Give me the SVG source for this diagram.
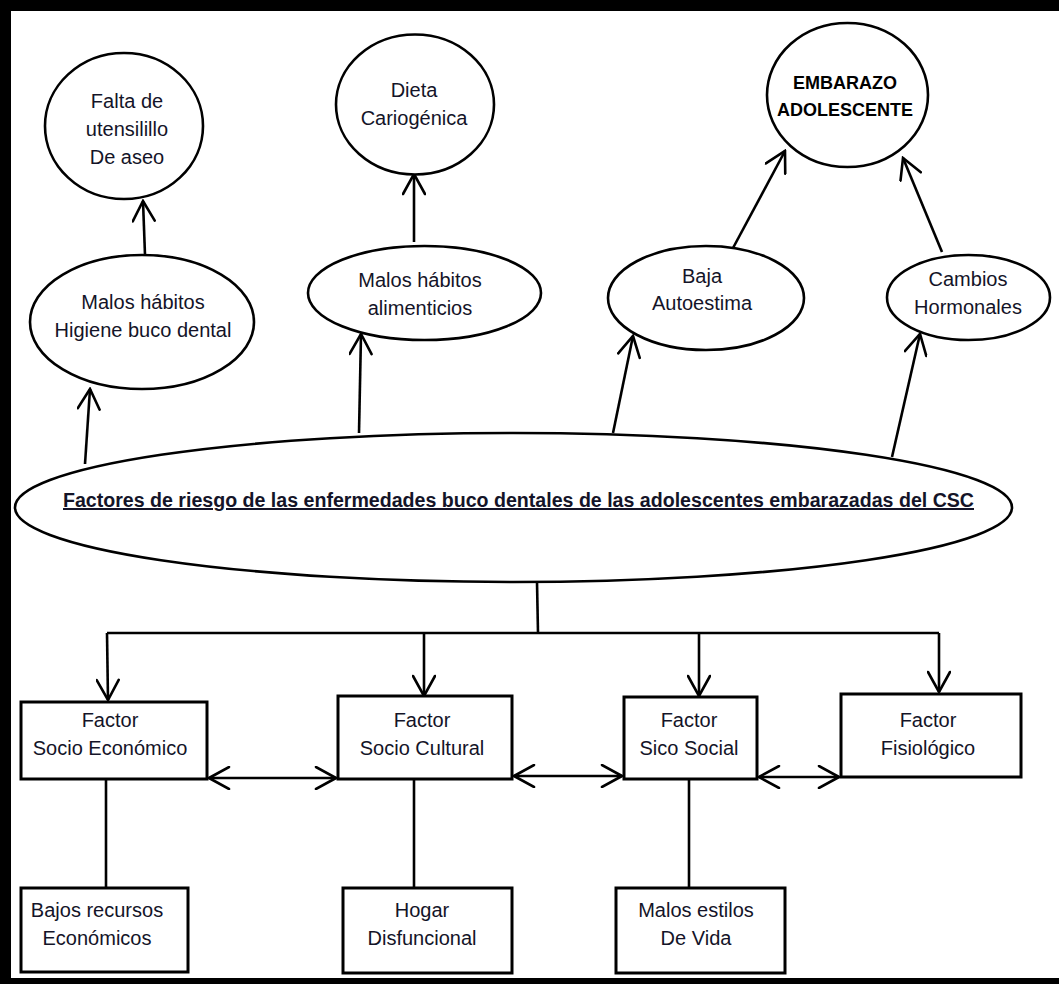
<svg xmlns="http://www.w3.org/2000/svg" width="1059" height="984" viewBox="0 0 1059 984">
<style>
.node ellipse, .node rect { fill: #fff; stroke: #000; stroke-width: 2.6; }
.node rect { stroke-width: 3; }
.t { font-family: "Liberation Sans", Arial, sans-serif; font-size: 20px; fill: #141428; text-anchor: middle; }
.b { font-weight: bold; font-size: 18px; fill: #000; }
.c line, .c path { stroke: #000; stroke-width: 2.6; fill: none; }
.a { marker-end: url(#ah); }
.d { marker-end: url(#ah); marker-start: url(#ah); }
</style>
<defs>
<marker id="ah" viewBox="-22 -12 24 24" refX="0" refY="0" markerWidth="24" markerHeight="24" markerUnits="userSpaceOnUse" orient="auto-start-reverse">
<path d="M-20,-11 L0,0 L-20,11" fill="none" stroke="#000" stroke-width="2.6" stroke-linecap="round" stroke-linejoin="miter"/>
</marker>
</defs>
<rect x="0" y="0" width="1059" height="984" fill="#000"/>
<rect x="11" y="11" width="1048" height="967" fill="#fff"/>

<g class="c" id="connectors">
<line class="a" x1="85" y1="464" x2="90" y2="389"/>
<line class="a" x1="359" y1="433" x2="361" y2="334"/>
<line class="a" x1="613" y1="433" x2="633" y2="336"/>
<line class="a" x1="892" y1="457" x2="920" y2="334"/>
<line class="a" x1="145" y1="255" x2="143" y2="201"/>
<line class="a" x1="414" y1="242" x2="414" y2="174"/>
<line class="a" x1="733" y1="248" x2="785" y2="151"/>
<line class="a" x1="942" y1="252" x2="903" y2="158"/>
<line x1="537" y1="582" x2="538" y2="633"/>
<line x1="107" y1="633" x2="939" y2="633"/>
<line class="a" x1="107" y1="633" x2="108" y2="700"/>
<line class="a" x1="424" y1="633" x2="424" y2="696"/>
<line class="a" x1="699" y1="633" x2="699" y2="696"/>
<line class="a" x1="939" y1="633" x2="939" y2="692"/>
<line class="d" x1="209" y1="778" x2="336" y2="778"/>
<line class="d" x1="514" y1="776" x2="622" y2="776"/>
<line class="d" x1="759" y1="777" x2="839" y2="777"/>
<line x1="106" y1="779" x2="106" y2="887"/>
<line x1="414" y1="779" x2="414" y2="888"/>
<line x1="689" y1="779" x2="689" y2="888"/>
</g>

<g class="node" id="n-main">
<ellipse cx="513.5" cy="507.5" rx="498.5" ry="74.5"/>
<text class="t" x="518.5" y="507" font-weight="bold" font-size="17" fill="#000" text-decoration="underline" textLength="911" lengthAdjust="spacingAndGlyphs">Factores de riesgo de las enfermedades buco dentales de las adolescentes embarazadas del CSC</text>
</g>

<g class="node" id="n-falta">
<ellipse cx="124" cy="126" rx="79" ry="73"/>
<text class="t" x="127" y="108">Falta de</text>
<text class="t" x="127" y="136">utensilillo</text>
<text class="t" x="127" y="164">De aseo</text>
</g>

<g class="node" id="n-higiene">
<ellipse cx="142" cy="322" rx="112" ry="67"/>
<text class="t" x="143" y="309">Malos hábitos</text>
<text class="t" x="143" y="337">Higiene buco dental</text>
</g>

<g class="node" id="n-dieta">
<ellipse cx="415" cy="104.5" rx="79" ry="70"/>
<text class="t" x="414" y="97">Dieta</text>
<text class="t" x="414" y="125">Cariogénica</text>
</g>

<g class="node" id="n-alim">
<ellipse cx="424.5" cy="293" rx="116.5" ry="47"/>
<text class="t" x="420" y="287">Malos hábitos</text>
<text class="t" x="420" y="315">alimenticios</text>
</g>

<g class="node" id="n-embarazo">
<ellipse cx="847.5" cy="95" rx="80.5" ry="72"/>
<text class="t b" x="845" y="89">EMBARAZO</text>
<text class="t b" x="845" y="116">ADOLESCENTE</text>
</g>

<g class="node" id="n-baja">
<ellipse cx="706" cy="298" rx="98" ry="52"/>
<text class="t" x="702" y="283">Baja</text>
<text class="t" x="702" y="310">Autoestima</text>
</g>

<g class="node" id="n-cambios">
<ellipse cx="968.5" cy="297.5" rx="81.5" ry="42.5"/>
<text class="t" x="968" y="286">Cambios</text>
<text class="t" x="968" y="314">Hormonales</text>
</g>

<g class="node" id="n-socioeco">
<rect x="21" y="702" width="186" height="77"/>
<text class="t" x="110" y="727">Factor</text>
<text class="t" x="110" y="755">Socio Económico</text>
</g>

<g class="node" id="n-sociocult">
<rect x="338" y="696" width="174" height="83"/>
<text class="t" x="422" y="727">Factor</text>
<text class="t" x="422" y="755">Socio Cultural</text>
</g>

<g class="node" id="n-sico">
<rect x="624" y="697" width="133" height="82"/>
<text class="t" x="689" y="727">Factor</text>
<text class="t" x="689" y="755">Sico Social</text>
</g>

<g class="node" id="n-fisio">
<rect x="841" y="694" width="180" height="83"/>
<text class="t" x="928" y="727">Factor</text>
<text class="t" x="928" y="755">Fisiológico</text>
</g>

<g class="node" id="n-bajos">
<rect x="21" y="888" width="167" height="84"/>
<text class="t" x="97" y="917">Bajos recursos</text>
<text class="t" x="97" y="945">Económicos</text>
</g>

<g class="node" id="n-hogar">
<rect x="343" y="888" width="169" height="85"/>
<text class="t" x="422" y="917">Hogar</text>
<text class="t" x="422" y="945">Disfuncional</text>
</g>

<g class="node" id="n-estilos">
<rect x="616" y="888" width="169" height="85"/>
<text class="t" x="696" y="917">Malos estilos</text>
<text class="t" x="696" y="945">De Vida</text>
</g>
</svg>
